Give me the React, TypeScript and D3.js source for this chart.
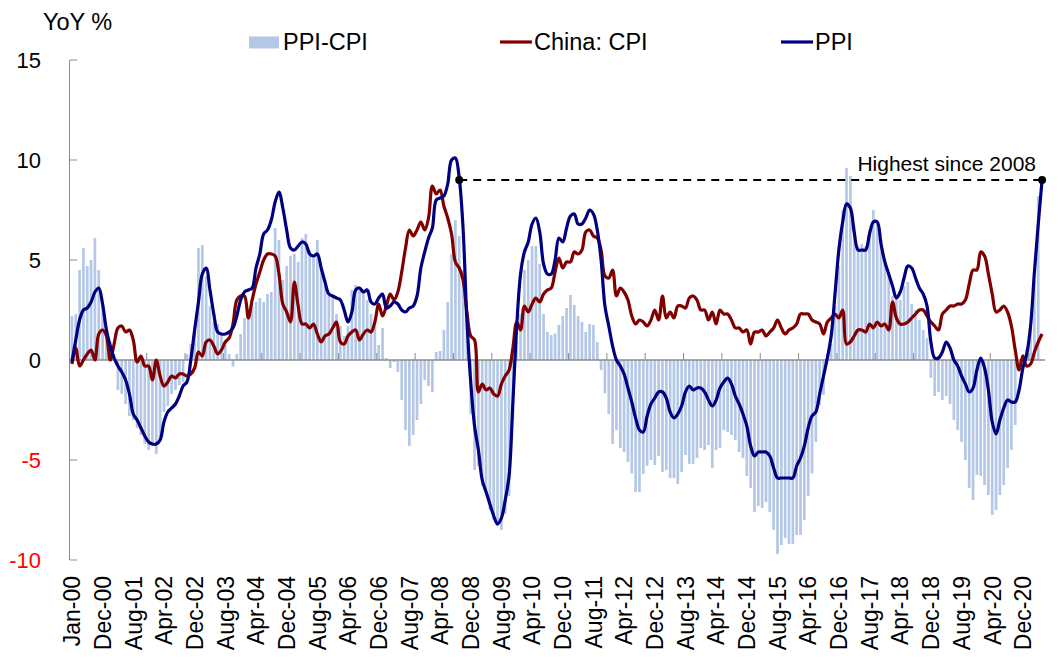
import React from "react";
import * as d3 from "d3";

// ---- Data (monthly, index 0 = Jan-00, index 8 = Dec-00, last = May-21) ----
const ppi: number[] = [
  -0.1, 1.0, 2.0, 2.5, 2.6, 2.9, 3.4, 3.6, 2.8,
  1.5, 0.7, 0.1, -0.3, -0.6, -1.0, -1.7, -2.7, -3.0, -3.4, -3.8, -4.1,
  -4.2, -4.2, -4.0, -3.1, -2.6, -2.4, -2.2, -1.8, -1.3, -1.1, 0.0, 1.5,
  2.9, 4.3, 4.6, 3.5, 2.3, 1.4, 1.3, 1.3, 1.4, 1.6, 2.2, 3.0,
  3.4, 3.5, 3.6, 4.6, 5.3, 6.3, 6.5, 7.0, 7.9, 8.4, 7.6, 6.5,
  5.6, 5.5, 5.7, 5.9, 5.8, 5.3, 5.2, 5.3, 4.6, 3.9, 3.3, 3.2,
  3.1, 3.0, 2.5, 1.9, 2.4, 3.5, 3.6, 3.4, 3.5, 2.9, 2.8, 3.1,
  3.3, 2.6, 2.7, 2.9, 2.8, 2.5, 2.4, 2.6, 2.7, 3.2, 4.6, 5.4,
  6.1, 6.6, 8.0, 8.1, 8.2, 8.8, 10.0, 10.1, 9.1, 6.6, 2.0, -1.1,
  -3.3, -4.5, -6.0, -6.6, -7.2, -7.8, -8.2, -7.9, -7.0, -5.8, -2.1, 1.7,
  4.3, 5.4, 5.9, 6.8, 7.1, 6.4, 4.8, 4.3, 4.3, 5.0, 6.1, 5.9,
  6.6, 7.2, 7.3, 6.8, 6.8, 7.1, 7.5, 7.3, 6.5, 5.0, 2.7, 1.7,
  0.7, 0.0, -0.3, -0.7, -1.4, -2.1, -2.9, -3.5, -3.6, -2.8, -2.2, -1.9,
  -1.6, -1.6, -1.9, -2.6, -2.9, -2.7, -2.3, -1.6, -1.3, -1.5, -1.4, -1.4,
  -1.6, -2.0, -2.3, -2.0, -1.4, -1.1, -0.9, -1.2, -1.8, -2.2, -2.7, -3.3,
  -4.3, -4.8, -4.6, -4.6, -4.6, -4.8, -5.4, -5.9, -5.9, -5.9, -5.9, -5.9,
  -5.3, -4.9, -4.3, -3.4, -2.8, -2.6, -1.7, -0.8, 0.1, 1.2, 3.3, 5.5,
  6.9, 7.8, 7.6, 6.4, 5.5, 5.5, 5.5, 6.3, 6.9, 6.9, 5.8, 4.9,
  4.3, 3.7, 3.1, 3.4, 4.1, 4.7, 4.6, 4.1, 3.6, 3.3, 2.7, 0.9,
  0.1, 0.1, 0.4, 0.9, 0.6, 0.0, -0.3, -0.8, -1.2, -1.6, -1.4, -0.5,
  0.1, -0.4, -1.5, -3.1, -3.7, -3.0, -2.4, -2.0, -2.1, -2.1, -1.5, -0.4,
  0.3, 1.7, 4.4, 6.8, 9.0,
];

const cpi: number[] = [
  -0.2, 0.6, -0.3, 0.0, 0.3, 0.5, 0.0, 1.3, 1.5,
  1.2, 0.0, 0.8, 1.6, 1.7, 1.4, 1.5, 1.0, -0.1, 0.2, -0.3, -0.3,
  -1.0, 0.0, -0.8, -1.3, -1.1, -0.8, -0.9, -0.7, -0.7, -0.8, -0.7, -0.4,
  0.4, 0.2, 0.9, 1.0, 0.7, 0.3, 0.5, 0.9, 1.1, 1.8, 3.0, 3.2,
  3.2, 2.1, 3.0, 3.8, 4.4, 5.0, 5.3, 5.3, 5.2, 4.3, 2.8, 2.4,
  1.9, 3.9, 2.7, 1.8, 1.8, 1.6, 1.8, 1.3, 0.9, 1.2, 1.3, 1.6,
  1.9, 0.9, 0.8, 1.2, 1.4, 1.5, 1.0, 1.3, 1.5, 1.4, 1.9, 2.8,
  2.2, 2.7, 3.3, 3.0, 3.4, 4.4, 5.6, 6.5, 6.2, 6.5, 6.9, 6.5,
  7.1, 8.7, 8.3, 8.5, 7.7, 7.1, 6.3, 4.9, 4.6, 4.0, 2.4, 1.2,
  1.0, -1.6, -1.2, -1.5, -1.4, -1.7, -1.8, -1.2, -0.8, -0.5, 0.6, 1.9,
  1.5, 2.7, 2.4, 2.8, 3.1, 2.9, 3.3, 3.5, 3.6, 4.4, 5.1, 4.6,
  4.9, 4.9, 5.4, 5.3, 5.5, 6.4, 6.5, 6.2, 6.1, 5.5, 4.2, 4.1,
  4.5, 3.2, 3.6, 3.4, 3.0, 2.2, 1.8, 2.0, 1.9, 1.7, 2.0, 2.5,
  2.0, 3.2, 2.1, 2.4, 2.1, 2.7, 2.7, 2.6, 3.1, 3.2, 3.0, 2.5,
  2.5, 2.0, 2.4, 1.8, 2.5, 2.3, 2.3, 2.0, 1.6, 1.6, 1.4, 1.5,
  0.8, 1.4, 1.4, 1.5, 1.2, 1.4, 1.6, 2.0, 1.6, 1.3, 1.5, 1.6,
  1.8, 2.3, 2.3, 2.3, 2.0, 1.9, 1.8, 1.3, 1.9, 2.1, 2.3, 2.1,
  2.5, 0.8, 0.9, 1.2, 1.5, 1.5, 1.4, 1.8, 1.6, 1.9, 1.7, 1.8,
  1.5, 2.9, 2.1, 1.8, 1.8, 1.9, 2.1, 2.3, 2.5, 2.5, 2.2, 1.9,
  1.7, 1.5, 2.3, 2.5, 2.7, 2.7, 2.8, 2.8, 3.0, 3.8, 4.5, 4.5,
  5.4, 5.2, 4.3, 3.3, 2.4, 2.5, 2.7, 2.4, 1.7, 0.5, -0.5, 0.2,
  -0.3, -0.2, 0.4, 0.9, 1.3,
];

const spread: number[] = [
  2.2, 2.3, 4.5, 5.6, 4.7, 5.0, 6.1, 4.5, 2.8,
  1.5, 0.9, 0.3, -1.5, -1.7, -2.2, -2.8, -3.0, -3.4, -3.75, -4.2, -4.5,
  -4.3, -4.7, -4.0, -2.6, -2.3, -1.7, -1.5, -1.25, -1.1, 0.3, 0.8, 1.7,
  5.6, 5.75, 4.2, 2.7, 1.9, 1.8, 1.3, 0.75, 0.3, -0.33, 0.3, 1.3,
  2.1, 2.3, 2.7, 2.9, 3.1, 2.9, 3.3, 3.4, 6.6, 6.0, 4.0, 4.7,
  5.2, 5.3, 4.9, 6.1, 6.3, 5.5, 5.25, 6.0, 4.5, 3.8, 3.2, 3.2,
  2.3, 1.7, 1.2, 1.7, 3.5, 3.75, 3.5, 3.5, 3.0, 2.3, 1.7, 0.75,
  1.6, 0.1, -0.4, -0.1, -0.6, -2.0, -3.5, -4.3, -3.75, -3.0, -2.2, -1.0,
  -1.3, -1.6, 0.4, 0.45, 1.5, 2.9, 5.3, 7.0, 6.2, 4.5, 2.0, -2.7,
  -5.5, -5.3, -6.3, -6.6, -7.5, -8.0, -8.3, -8.5, -7.7, -6.8, -3.0, 1.0,
  2.3, 4.5, 5.0, 5.7, 5.7, 4.8, 2.3, 1.4, 1.25, 1.33, 1.75, 2.2,
  2.6, 3.25, 2.75, 2.2, 1.9, 1.4, 1.8, 1.75, 0.9, -0.5, -1.67, -2.7,
  -4.2, -3.5, -4.4, -4.6, -5.1, -5.67, -6.6, -6.6, -5.7, -5.3, -5.0, -5.25,
  -4.8, -5.6, -5.5, -5.9, -5.9, -6.2, -5.6, -4.75, -5.2, -5.2, -4.9, -4.4,
  -4.5, -4.25, -5.4, -4.5, -4.4, -3.5, -3.6, -3.75, -4.0, -4.6, -4.9, -5.8,
  -6.4, -7.6, -7.3, -7.4, -7.1, -7.6, -8.5, -9.7, -9.25, -8.9, -9.2, -9.2,
  -8.75, -8.75, -8.0, -6.8, -5.67, -4.1, -2.25, -1.75, 0.3, 0.8, 2.7, 4.7,
  7.5, 9.6, 9.2, 6.7, 5.7, 5.8, 5.7, 6.5, 7.5, 6.8, 6.0, 4.8,
  4.3, 3.2, 3.2, 3.0, 3.7, 3.9, 2.8, 2.5, 2.0, 1.5, 1.1, -0.9,
  -1.8, -1.6, -2.0, -1.8, -2.2, -3.0, -3.5, -4.1, -5.0, -6.4, -7.0, -5.75,
  -5.8, -6.25, -6.75, -7.75, -7.5, -6.75, -6.25, -5.4, -4.5, -3.25, -0.5, 0.3,
  0.5, 1.5, 4.0, 8.2,
];

const xTickLabels: string[] = [
  "Jan-00", "Dec-00", "Aug-01", "Apr-02", "Dec-02", "Aug-03", "Apr-04", "Dec-04",
  "Aug-05", "Apr-06", "Dec-06", "Aug-07", "Apr-08", "Dec-08", "Aug-09", "Apr-10",
  "Dec-10", "Aug-11", "Apr-12", "Dec-12", "Aug-13", "Apr-14", "Dec-14", "Aug-15",
  "Apr-16", "Dec-16", "Aug-17", "Apr-18", "Dec-18", "Aug-19", "Apr-20", "Dec-20",
];
const yTicks: number[] = [15, 10, 5, 0, -5, -10];
const LABEL_EVERY = 8;
const TICK_EVERY = 10;
const HIGHLIGHT_FROM = 101; // Sep-08
const HIGHLIGHT_VALUE = 9;

const FONT = "'Liberation Sans', Arial, Helvetica, sans-serif";
const BAR_COLOR = "#b4c7e7";
const CPI_COLOR = "#800000";
const PPI_COLOR = "#000080";
const AXIS_COLOR = "#8c8c8c";

export default function App() {
  const W = 1058;
  const H = 668;
  const left = 70;
  const n = ppi.length;
  const right = 1044;
  const top = 60;
  const bottom = 560;

  const idx = d3.range(n);
  const x = d3
    .scaleBand<number>()
    .domain(idx)
    .range([left, right])
    .paddingInner(0.3)
    .paddingOuter(0.15);
  const step = x.step();
  const cx = (i: number) => (x(i) as number) + x.bandwidth() / 2;
  const boundary = (i: number) => left + i * step;

  const y = d3.scaleLinear().domain([-10, 15]).range([bottom, top]);
  const y0 = y(0);

  const line = d3
    .line<number>()
    .x((_, i) => cx(i))
    .y((v) => y(v))
    .curve(d3.curveCatmullRom.alpha(0.5));

  const catTicks = d3.range(TICK_EVERY, n, TICK_EVERY);

  return (
    <svg
      width={W}
      height={H}
      style={{ position: "absolute", left: 0, top: 0, display: "block", background: "#fff" }}
      fontFamily={FONT}
    >
      {/* bars */}
      <g>
        {spread.map((v, i) => (
          <rect
            key={i}
            x={x(i)}
            width={x.bandwidth()}
            y={Math.min(y(v), y0)}
            height={Math.abs(y(v) - y0)}
            fill={BAR_COLOR}
          />
        ))}
      </g>

      {/* y axis */}
      <line x1={left - 0.5} x2={left - 0.5} y1={y(15)} y2={y(-10)} stroke={AXIS_COLOR} strokeWidth={1} />
      {yTicks.map((t) => (
        <g key={t}>
          <line x1={left} x2={left + 7} y1={y(t)} y2={y(t)} stroke={AXIS_COLOR} strokeWidth={1} />
          <text
            x={41}
            y={y(t)}
            dy="0.36em"
            textAnchor="end"
            fontSize={22}
            fill={t < 0 ? "#ff0000" : "#000"}
          >
            {t}
          </text>
        </g>
      ))}

      {/* x axis (at zero) */}
      <line x1={left} x2={right + 1} y1={y0} y2={y0} stroke={AXIS_COLOR} strokeWidth={1.5} />
      {catTicks.map((i) => (
        <line key={i} x1={boundary(i)} x2={boundary(i)} y1={y0} y2={y0 - 7} stroke={AXIS_COLOR} strokeWidth={1} />
      ))}
      {xTickLabels.map((lab, k) => {
        const px = cx(k * LABEL_EVERY);
        const py = 576;
        return (
          <text
            key={lab}
            transform={`translate(${px},${py}) rotate(-90)`}
            textAnchor="end"
            dy="0.36em"
            fontSize={23}
            fill="#000"
          >
            {lab}
          </text>
        );
      })}

      {/* lines */}
      <path d={line(cpi) || ""} fill="none" stroke={CPI_COLOR} strokeWidth={3.2} strokeLinejoin="round" />
      <path d={line(ppi) || ""} fill="none" stroke={PPI_COLOR} strokeWidth={3.2} strokeLinejoin="round" />

      {/* highlight */}
      <line
        x1={cx(HIGHLIGHT_FROM)}
        x2={cx(n - 1)}
        y1={y(HIGHLIGHT_VALUE)}
        y2={y(HIGHLIGHT_VALUE)}
        stroke="#000"
        strokeWidth={2.2}
        strokeDasharray="8,6"
      />
      <circle cx={cx(HIGHLIGHT_FROM)} cy={y(HIGHLIGHT_VALUE)} r={4} fill="#000" />
      <circle cx={cx(n - 1)} cy={y(HIGHLIGHT_VALUE)} r={4} fill="#000" />
      <text x={1036} y={171} textAnchor="end" fontSize={21} fill="#000">
        Highest since 2008
      </text>

      {/* title & legend */}
      <text x={43} y={30} fontSize={23.5} fill="#000">YoY %</text>
      <rect x={249} y={36.5} width={30} height={12} fill={BAR_COLOR} />
      <text x={283} y={50} fontSize={23.5} fill="#000">PPI-CPI</text>
      <line x1={500} x2={532} y1={42} y2={42} stroke={CPI_COLOR} strokeWidth={3.2} />
      <text x={534} y={50} fontSize={23.5} fill="#000">China: CPI</text>
      <line x1={781} x2={813} y1={42} y2={42} stroke={PPI_COLOR} strokeWidth={3.2} />
      <text x={815} y={50} fontSize={23.5} fill="#000">PPI</text>
    </svg>
  );
}
